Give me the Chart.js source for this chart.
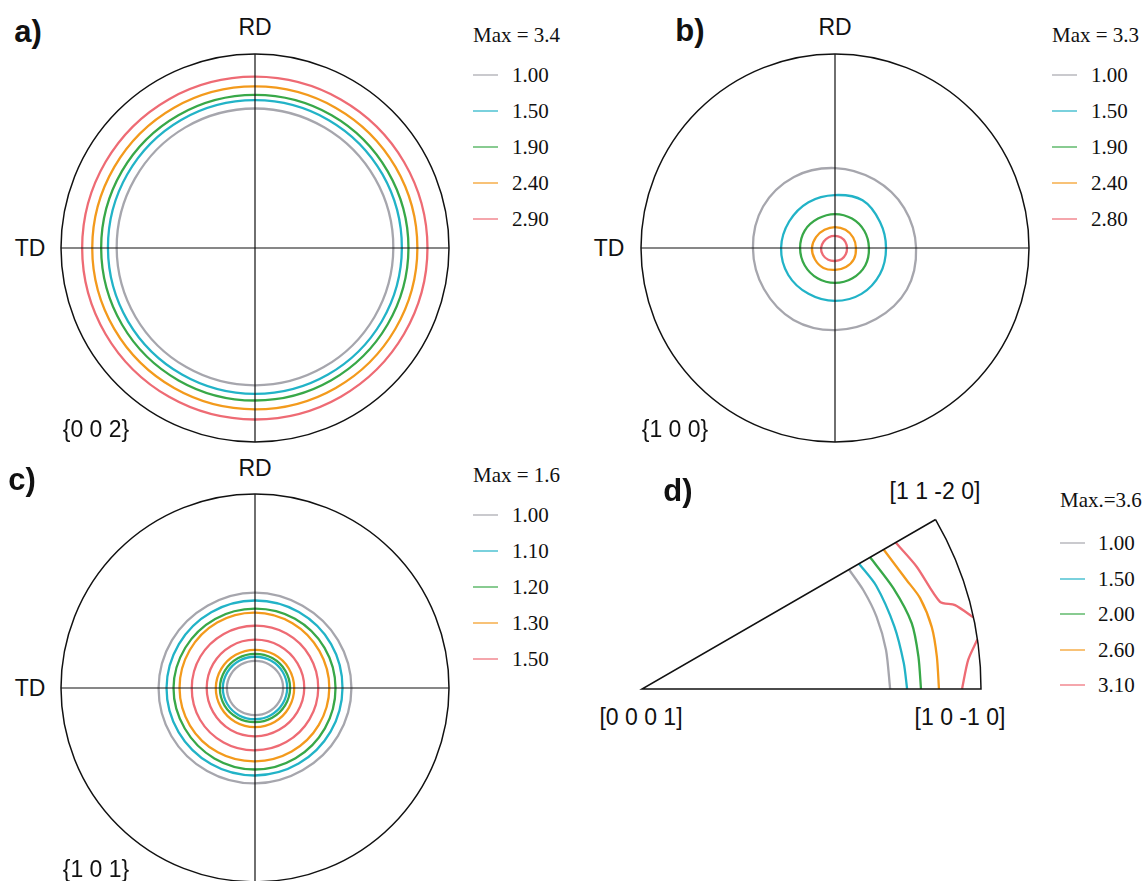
<!DOCTYPE html>
<html>
<head>
<meta charset="utf-8">
<title>Pole figures</title>
<script src="https://cdn.jsdelivr.net/npm/chart.js@4.4.1/dist/chart.umd.min.js"></script>
<style>
  body { margin: 0; background: #fff; }
  #fig { position: relative; width: 1143px; height: 881px; overflow: hidden; font-family: "Liberation Sans", Arial, sans-serif; color: #111; }
  #fig canvas { position: absolute; }
  .lbl { position: absolute; font-size: 23px; transform: translate(-50%, -50%); white-space: nowrap; line-height: 1; }
  .tag { font-weight: bold; font-size: 31px; }
  .leg { position: absolute; font-family: "Liberation Serif", "Times New Roman", serif; font-size: 21px; line-height: 24px; white-space: nowrap; }
  .swatch { position: absolute; height: 2px; width: 25px; opacity: 0.6; }
</style>
</head>
<body>
<div id="fig">
  <canvas id="pfA" width="400" height="400" style="left:55px;top:48px"></canvas>
  <canvas id="pfB" width="400" height="400" style="left:635px;top:48px"></canvas>
  <canvas id="pfC" width="400" height="400" style="left:55px;top:488px"></canvas>
  <canvas id="ipfD" width="355" height="186" style="left:634px;top:511px"></canvas>

  <div class="lbl tag" style="left:28px;top:31px">a)</div>
  <div class="lbl" style="left:255px;top:27px">RD</div>
  <div class="lbl" style="left:30px;top:248px">TD</div>
  <div class="lbl" style="left:96px;top:429px">{0 0 2}</div>

  <div class="lbl tag" style="left:690px;top:30px">b)</div>
  <div class="lbl" style="left:835px;top:27px">RD</div>
  <div class="lbl" style="left:609px;top:248px">TD</div>
  <div class="lbl" style="left:675px;top:429px">{1 0 0}</div>

  <div class="lbl tag" style="left:22px;top:479px">c)</div>
  <div class="lbl" style="left:255px;top:468px">RD</div>
  <div class="lbl" style="left:30px;top:688px">TD</div>
  <div class="lbl" style="left:96px;top:869px">{1 0 1}</div>

  <div class="lbl tag" style="left:678px;top:490px">d)</div>
  <div class="lbl" style="left:935px;top:491px">[1 1 -2 0]</div>
  <div class="lbl" style="left:641px;top:717px">[0 0 0 1]</div>
  <div class="lbl" style="left:960px;top:717px">[1 0 -1 0]</div>
</div>
<script>
// sampling directions, degrees clockwise from RD
const dirs = ['0', '30', '60', '90', '120', '150', '180', '210', '240', '270', '300', '330'];

const levelsA = ['1.00', '1.50', '1.90', '2.40', '2.90'];
const levelsB = ['1.00', '1.50', '1.90', '2.40', '2.80'];
const levelsC = ['1.00', '1.10', '1.20', '1.30', '1.50'];
const levelsD = ['1.00', '1.50', '2.00', '2.60', '3.10'];
const colors = ['#a6a6ad', '#22b3c7', '#38a848', '#f39a1c', '#ee6b74'];

// contour radius (fraction of the projection radius) per direction
// {0 0 2}
const a100 = [0.719, 0.717, 0.715, 0.713, 0.711, 0.709, 0.708, 0.709, 0.711, 0.713, 0.715, 0.718];
const a150 = [0.762, 0.761, 0.759, 0.757, 0.755, 0.753, 0.752, 0.753, 0.756, 0.758, 0.760, 0.762];
const a190 = [0.789, 0.790, 0.790, 0.791, 0.789, 0.787, 0.786, 0.788, 0.791, 0.793, 0.792, 0.790];
const a240 = [0.833, 0.834, 0.836, 0.837, 0.835, 0.833, 0.832, 0.834, 0.837, 0.839, 0.837, 0.835];
const a290 = [0.883, 0.884, 0.887, 0.889, 0.887, 0.885, 0.884, 0.886, 0.889, 0.891, 0.889, 0.886];

// {1 0 0}
const b100 = [0.412, 0.407, 0.412, 0.418, 0.428, 0.423, 0.423, 0.428, 0.423, 0.423, 0.428, 0.423];
const b150 = [0.273, 0.284, 0.268, 0.263, 0.268, 0.273, 0.273, 0.273, 0.278, 0.278, 0.273, 0.273];
const b190 = [0.175, 0.175, 0.175, 0.175, 0.180, 0.180, 0.180, 0.180, 0.180, 0.180, 0.180, 0.175];
const b240 = [0.108, 0.108, 0.108, 0.108, 0.113, 0.113, 0.113, 0.119, 0.119, 0.119, 0.113, 0.108];
const b280 = [0.062, 0.062, 0.062, 0.062, 0.064, 0.067, 0.067, 0.070, 0.072, 0.072, 0.067, 0.064];

// {1 0 1}: ring, outer and inner contour of each level
const c100o = [0.492, 0.490, 0.494, 0.497, 0.494, 0.490, 0.492, 0.494, 0.497, 0.497, 0.494, 0.490];
const c110o = [0.451, 0.452, 0.453, 0.451, 0.450, 0.450, 0.451, 0.453, 0.455, 0.456, 0.453, 0.451];
const c120o = [0.409, 0.412, 0.414, 0.415, 0.416, 0.418, 0.420, 0.419, 0.418, 0.420, 0.415, 0.411];
const c130o = [0.389, 0.386, 0.383, 0.383, 0.380, 0.378, 0.378, 0.383, 0.387, 0.389, 0.389, 0.390];
const c150o = [0.321, 0.324, 0.326, 0.326, 0.324, 0.322, 0.321, 0.324, 0.327, 0.326, 0.325, 0.322];
const c150i = [0.249, 0.251, 0.253, 0.254, 0.251, 0.249, 0.249, 0.250, 0.249, 0.249, 0.249, 0.249];
const c130i = [0.197, 0.199, 0.201, 0.202, 0.202, 0.202, 0.202, 0.202, 0.202, 0.202, 0.200, 0.198];
const c120i = [0.176, 0.178, 0.180, 0.181, 0.179, 0.177, 0.176, 0.178, 0.181, 0.181, 0.179, 0.177];
const c110i = [0.161, 0.163, 0.165, 0.166, 0.164, 0.162, 0.161, 0.163, 0.165, 0.166, 0.164, 0.162];
const c100i = [0.140, 0.142, 0.144, 0.145, 0.143, 0.141, 0.140, 0.142, 0.144, 0.145, 0.143, 0.141];

// inverse pole figure: angle from [1 0 -1 0] (deg) and radius (fraction)
const d100Ang = [0, 9.1, 17.1, 24.1, 30];
const d100R = [0.732, 0.729, 0.724, 0.715, 0.705];
const d150Ang = [0, 5.6, 13.9, 23.8, 30];
const d150R = [0.782, 0.776, 0.767, 0.755, 0.739];
const d200Ang = [0, 6.7, 13.7, 21.8, 30];
const d200R = [0.823, 0.821, 0.819, 0.799, 0.777];
const d260Ang = [0, 6.3, 12.1, 18.1, 22.4, 30];
const d260R = [0.876, 0.875, 0.874, 0.863, 0.844, 0.823];
const d310UpAng = [12.2, 15.0, 16.3, 24.0, 30];
const d310UpR = [1.0, 0.956, 0.916, 0.887, 0.864];
const d310LowAng = [0, 5.1, 8.4];
const d310LowR = [0.944, 0.966, 1.0];

// outline circle and RD/TD axes
const poleFrame = {
  id: 'poleFrame',
  afterDatasetsDraw(chart) {
    const s = chart.scales.r;
    const ctx = chart.ctx;
    const rad = s.getDistanceFromCenterForValue(1);
    ctx.save();
    ctx.strokeStyle = '#111';
    ctx.lineWidth = 1.5;
    ctx.beginPath();
    ctx.arc(s.xCenter, s.yCenter, rad, 0, 2 * Math.PI);
    ctx.stroke();
    ctx.lineWidth = 1.2;
    ctx.beginPath();
    ctx.moveTo(s.xCenter - rad, s.yCenter);
    ctx.lineTo(s.xCenter + rad, s.yCenter);
    ctx.moveTo(s.xCenter, s.yCenter - rad);
    ctx.lineTo(s.xCenter, s.yCenter + rad);
    ctx.stroke();
    ctx.restore();
  }
};

function poleFigure(id, contours) {
  new Chart(document.getElementById(id), {
    type: 'radar',
    data: {
      labels: dirs,
      datasets: contours.map(c => ({
        data: c.r,
        borderColor: c.color,
        borderWidth: 2.3,
        pointRadius: 0,
        fill: false,
        tension: 0.35
      }))
    },
    options: {
      responsive: false,
      animation: false,
      events: [],
      layout: { padding: 0 },
      plugins: { legend: { display: false }, tooltip: { enabled: false } },
      scales: {
        r: {
          min: 0,
          max: 200 / 194,
          ticks: { display: false },
          grid: { display: false },
          angleLines: { display: false },
          pointLabels: { display: false }
        }
      }
    },
    plugins: [poleFrame]
  });
}

poleFigure('pfA', [
  { r: a100, color: colors[0] }, { r: a150, color: colors[1] }, { r: a190, color: colors[2] },
  { r: a240, color: colors[3] }, { r: a290, color: colors[4] }
]);
poleFigure('pfB', [
  { r: b100, color: colors[0] }, { r: b150, color: colors[1] }, { r: b190, color: colors[2] },
  { r: b240, color: colors[3] }, { r: b280, color: colors[4] }
]);
poleFigure('pfC', [
  { r: c100o, color: colors[0] }, { r: c110o, color: colors[1] }, { r: c120o, color: colors[2] },
  { r: c130o, color: colors[3] }, { r: c150o, color: colors[4] },
  { r: c150i, color: colors[4] }, { r: c130i, color: colors[3] }, { r: c120i, color: colors[2] },
  { r: c110i, color: colors[1] }, { r: c100i, color: colors[0] }
]);

// inverse pole figure sector
const ipfFrame = {
  id: 'ipfFrame',
  afterDatasetsDraw(chart) {
    const x = chart.scales.x, y = chart.scales.y;
    const ctx = chart.ctx;
    const ox = x.getPixelForValue(0), oy = y.getPixelForValue(0);
    const rad = x.getPixelForValue(1) - ox;
    const t = Math.PI / 6;
    ctx.save();
    ctx.strokeStyle = '#111';
    ctx.lineWidth = 1.5;
    ctx.beginPath();
    ctx.moveTo(x.getPixelForValue(Math.cos(t)), y.getPixelForValue(Math.sin(t)));
    ctx.lineTo(ox, oy);
    ctx.lineTo(x.getPixelForValue(1), oy);
    ctx.arc(ox, oy, rad, 0, -t, true);
    ctx.stroke();
    ctx.restore();
  }
};

function polar(ang, r) {
  return ang.map((a, i) => ({
    x: r[i] * Math.cos(a * Math.PI / 180),
    y: r[i] * Math.sin(a * Math.PI / 180)
  }));
}

const dContours = [
  { pts: polar(d100Ang, d100R), color: colors[0] },
  { pts: polar(d150Ang, d150R), color: colors[1] },
  { pts: polar(d200Ang, d200R), color: colors[2] },
  { pts: polar(d260Ang, d260R), color: colors[3] },
  { pts: polar(d310UpAng, d310UpR), color: colors[4] },
  { pts: polar(d310LowAng, d310LowR), color: colors[4] }
];

new Chart(document.getElementById('ipfD'), {
  type: 'scatter',
  data: {
    datasets: dContours.map(c => ({
      data: c.pts,
      showLine: true,
      borderColor: c.color,
      borderWidth: 2.3,
      pointRadius: 0,
      tension: 0.25
    }))
  },
  options: {
    responsive: false,
    animation: false,
    events: [],
    layout: { padding: 0 },
    plugins: { legend: { display: false }, tooltip: { enabled: false } },
    scales: {
      x: { type: 'linear', display: false, min: -8 / 339, max: 347 / 339 },
      y: { type: 'linear', display: false, min: -8 / 339, max: 178 / 339 }
    }
  },
  plugins: [ipfFrame]
});

// legends
function addLegend(x, titleY, rowY0, gap, textX, title, levels) {
  const fig = document.getElementById('fig');
  const t = document.createElement('div');
  t.className = 'leg';
  t.style.left = x + 'px';
  t.style.top = (titleY - 12) + 'px';
  t.textContent = title;
  fig.appendChild(t);
  levels.forEach((lv, i) => {
    const yy = Math.round(rowY0 + gap * i);
    const sw = document.createElement('div');
    sw.className = 'swatch';
    sw.style.left = x + 'px';
    sw.style.top = (yy - 1) + 'px';
    sw.style.background = colors[i];
    fig.appendChild(sw);
    const lab = document.createElement('div');
    lab.className = 'leg';
    lab.style.left = textX + 'px';
    lab.style.top = (yy - 12) + 'px';
    lab.textContent = lv;
    fig.appendChild(lab);
  });
}

addLegend(473, 35, 75, 36, 512, 'Max = 3.4', levelsA);
addLegend(1052, 35, 75, 36, 1091, 'Max = 3.3', levelsB);
addLegend(473, 475, 515, 36, 512, 'Max = 1.6', levelsC);
addLegend(1060, 500, 543, 35.5, 1098, 'Max.=3.6', levelsD);
</script>
</body>
</html>
